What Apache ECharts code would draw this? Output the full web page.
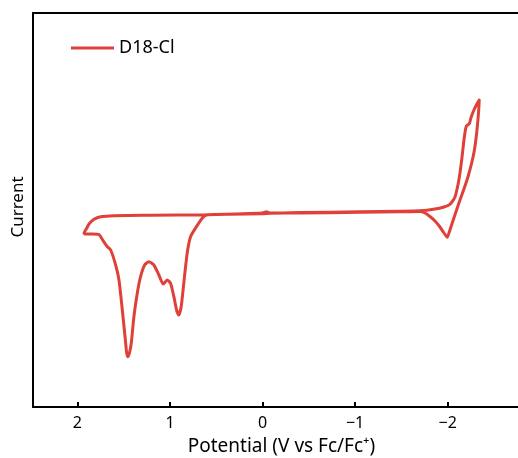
<!DOCTYPE html>
<html>
<head>
<meta charset="utf-8">
<script src="https://cdn.jsdelivr.net/npm/echarts@6/dist/echarts.min.js"></script>
<style>
  html, body { margin: 0; padding: 0; background: #fff; }
  #main { width: 518px; height: 458px; }
</style>
</head>
<body>
<div id="main"></div>
<script>
// CV loop (potential in V vs Fc/Fc+, current in arbitrary units)
var potential = [
  0.606, 0.002, -0.041, -0.084, -0.408, -1.054, -1.486, -1.701, -1.863, -1.960, -2.014, -2.046, -2.079,
  -2.111, -2.133, -2.154, -2.176, -2.192, -2.203, -2.235, -2.251, -2.284, -2.316, -2.341,
  -2.337, -2.327, -2.311, -2.289, -2.262, -2.219, -2.176, -2.133, -2.089, -2.046, -2.014, -1.996,
  -1.960, -1.917, -1.863, -1.809, -1.755, -1.701, -1.486, -1.054, -0.408, -0.084, 0.002, 0.347, 0.606,
  0.652, 0.725, 0.778, 0.814, 0.851, 0.879, 0.905, 0.929, 0.958, 0.994, 1.030, 1.073, 1.120, 1.174,
  1.228, 1.274, 1.318, 1.353, 1.390, 1.418, 1.438, 1.454, 1.468, 1.479, 1.515, 1.551, 1.587, 1.641,
  1.677, 1.727, 1.767, 1.835, 1.911, 1.929, 1.900, 1.875, 1.821, 1.749, 1.605, 1.210, 0.606
];
var current = [
  -0.18, 0.00, 0.12, 0.00, 0.05, 0.12, 0.17, 0.22, 0.40, 0.60, 0.80, 1.10, 1.60,
  2.80, 4.00, 5.50, 7.30, 8.30, 8.70, 8.95, 9.50, 10.30, 10.90, 11.30,
  10.50, 9.30, 7.80, 6.30, 5.10, 3.60, 2.40, 1.30, 0.10, -1.10, -2.00, -2.43,
  -2.00, -1.40, -0.80, -0.35, 0.00, 0.15, 0.12, 0.07, 0.00, -0.02, -0.08, -0.13, -0.20,
  -0.53, -1.53, -2.37, -4.00, -7.03, -9.37, -10.20, -9.70, -8.37, -7.03, -6.70, -7.10, -6.20, -5.20,
  -4.87, -5.20, -6.37, -8.00, -10.37, -13.00, -14.00, -14.37, -14.00, -13.00, -9.70, -6.70, -5.20, -3.70,
  -3.37, -2.70, -2.15, -2.10, -2.10, -2.03, -1.53, -1.10, -0.63, -0.37, -0.27, -0.23, -0.18
];
var tickValues = [-2, -1, 0, 1, 2];
var seriesName = 'D18-Cl';

var data = potential.map(function (e, i) { return [e, current[i]]; });

var chart = echarts.init(document.getElementById('main'));
var font = 'Noto Sans';
var red = '#e0403a';

var option = {
  animation: false,
  textStyle: { fontFamily: font, color: '#000' },
  grid: { left: 33, right: 0, top: 13, bottom: 51, containLabel: false, outerBoundsMode: 'none' },
  legend: {
    left: 66, top: 34,
    icon: 'rect', itemWidth: 43, itemHeight: 3, itemGap: 5,
    textStyle: { fontFamily: font, fontSize: 18, color: '#000' },
    data: [seriesName]
  },
  xAxis: [{
    type: 'value', inverse: true, min: -2.76, max: 2.48,
    axisLine: { show: true, onZero: false, lineStyle: { color: '#000', width: 2 } },
    axisTick: { show: true, inside: true, length: 5, customValues: tickValues, lineStyle: { color: '#000', width: 2 } },
    axisLabel: {
      customValues: tickValues, margin: 8, fontSize: 16, color: '#000', fontFamily: font,
      formatter: function (v) { return v < 0 ? '\u2212' + Math.abs(v) : String(v); }
    },
    splitLine: { show: false },
    name: 'Potential (V vs Fc/Fc\u207a)', nameLocation: 'middle', nameGap: 30,
    nameTextStyle: { fontSize: 19, color: '#000', fontFamily: font, padding: [0, 0, 0, 12] }
  }, {
    type: 'value', inverse: true, min: -2.76, max: 2.48, position: 'top',
    axisLine: { show: true, onZero: false, lineStyle: { color: '#000', width: 2 } },
    axisTick: { show: false }, axisLabel: { show: false }, splitLine: { show: false }
  }],
  yAxis: {
    type: 'value', min: -19.4, max: 20,
    axisLine: { show: true, onZero: false, lineStyle: { color: '#000', width: 2 } },
    axisTick: { show: false }, axisLabel: { show: false }, splitLine: { show: false },
    name: 'Current', nameLocation: 'middle', nameGap: 6, nameRotate: 90,
    nameTextStyle: { fontSize: 17, color: '#000', fontFamily: font, padding: [0, 0, 0, 6] }
  },
  series: [{
    name: seriesName, type: 'line', data: data, xAxisIndex: 0,
    showSymbol: false, smooth: 0.2,
    lineStyle: { color: red, width: 3, join: 'round', cap: 'round' },
    itemStyle: { color: red }
  }]
};
chart.setOption(option);
</script>
</body>
</html>
